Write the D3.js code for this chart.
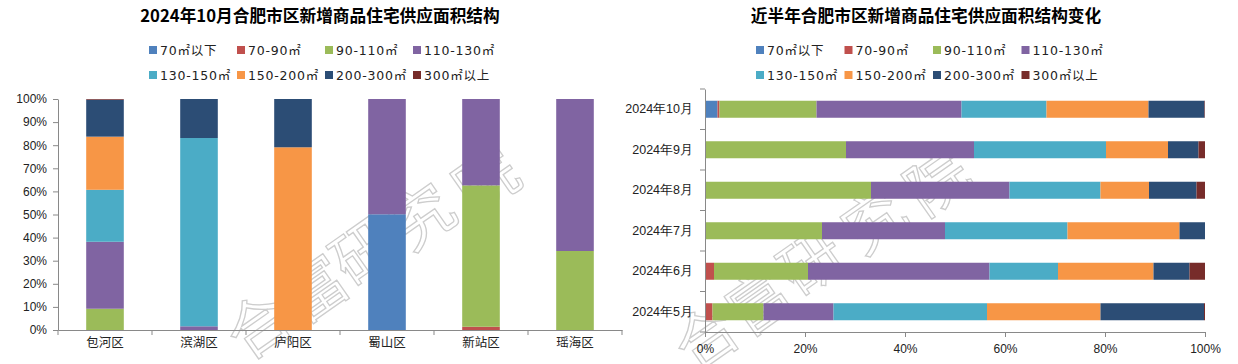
<!DOCTYPE html>
<html>
<head>
<meta charset="utf-8">
<script src="https://cdn.jsdelivr.net/npm/d3@7"></script>
<style>
  body { margin: 0; background: #fff; }
  svg { display: block; font-family: "DejaVu Sans", "Noto Sans CJK SC", sans-serif; }
</style>
</head>
<body>
<svg id="chart" width="1238" height="364"></svg>
<script>
// legend / series
const sizeKeys = ["70㎡以下", "70-90㎡", "90-110㎡", "110-130㎡", "130-150㎡", "150-200㎡", "200-300㎡", "300㎡以上"];
const sizeColors = ["#4F81BD", "#C0504D", "#9BBB59", "#8064A2", "#4BACC6", "#F79646", "#2C4D75", "#772C2A"];

// left chart: October 2024 by district (%)
const districts = ["包河区", "滨湖区", "庐阳区", "蜀山区", "新站区", "瑶海区"];
const baohe   = [0, 0, 9.2, 29.0, 22.5, 23.0, 16.0, 0.3];
const binhu   = [0, 0, 0, 1.6, 81.5, 0, 16.9, 0];
const luyang  = [0, 0, 0, 0, 0, 79.1, 20.9, 0];
const shushan = [50.1, 0, 0, 49.9, 0, 0, 0, 0];
const xinzhan = [0, 1.4, 61.2, 37.4, 0, 0, 0, 0];
const yaohai  = [0, 0, 34.2, 65.8, 0, 0, 0, 0];
const districtValues = [baohe, binhu, luyang, shushan, xinzhan, yaohai];

// right chart: last six months (%)
const months = ["2024年10月", "2024年9月", "2024年8月", "2024年7月", "2024年6月", "2024年5月"];
const oct = [2.5, 0.4, 19.4, 29.0, 17.0, 20.4, 11.2, 0.1];
const sep = [0, 0, 28.2, 25.6, 26.4, 12.4, 6.1, 1.3];
const aug = [0, 0, 33.2, 27.7, 18.2, 9.7, 9.5, 1.7];
const jul = [0, 0.2, 23.2, 24.6, 24.5, 22.4, 5.1, 0];
const jun = [0, 1.8, 18.8, 36.3, 13.7, 19.1, 7.2, 3.1];
const may = [0, 1.5, 10.2, 14.0, 30.7, 22.7, 20.7, 0.2];
const monthValues = [oct, sep, aug, jul, jun, may];

const leftTicks = [0, 10, 20, 30, 40, 50, 60, 70, 80, 90, 100];
const rightTicks = [0, 20, 40, 60, 80, 100];

const axisColor = "#898989";
const textColor = "#222";
const svg = d3.select("#chart");

const color = d3.scaleOrdinal().domain(sizeKeys).range(sizeColors);

function toRows(names, values) {
    return names.map((name, i) => {
        const row = { name: name };
        sizeKeys.forEach((k, j) => row[k] = values[i][j]);
        return row;
    });
}
const stack = d3.stack().keys(sizeKeys);

// watermark (outlined, behind the bars)
function watermark(points) {
    const chars = "合富研究院".split("");
    svg.append("g").selectAll("text")
        .data(chars)
        .join("text")
        .attr("transform", (d, i) => `translate(${points[i][0]},${points[i][1]}) rotate(-35)`)
        .attr("text-anchor", "middle")
        .attr("dominant-baseline", "central")
        .attr("font-family", "Noto Sans CJK SC")
        .attr("font-size", 62)
        .attr("fill", "none")
        .attr("stroke", "#cdcdcd")
        .attr("stroke-width", 1.3)
        .text(d => d);
}

function legend(x0, step) {
    const g = svg.append("g");
    sizeKeys.forEach((k, i) => {
        const x = x0 + (i % 4) * step;
        const y = i < 4 ? 50 : 75;
        g.append("rect").attr("x", x).attr("y", y - 4).attr("width", 8).attr("height", 8).attr("fill", color(k));
        g.append("text").attr("x", x + 11).attr("y", y).attr("dominant-baseline", "central")
            .attr("font-size", 12.5).attr("letter-spacing", 0.8).attr("fill", textColor).text(k);
    });
}

// ---------------- left chart ----------------
{
    const x = d3.scaleBand().domain(districts).range([58, 622]).paddingInner(0.6).paddingOuter(0.3);
    const y = d3.scaleLinear().domain([0, 100]).range([330, 99]);

    watermark([[256, 322], [313, 285], [361, 248], [420, 213], [484, 177]]);

    svg.append("text").attr("x", 320).attr("y", 22).attr("text-anchor", "middle")
        .attr("font-family", "Noto Sans CJK SC").attr("font-weight", "bold").attr("font-size", 16.7)
        .attr("fill", "#000").text("2024年10月合肥市区新增商品住宅供应面积结构");
    legend(149, 88);

    const series = stack(toRows(districts, districtValues));
    svg.append("g").selectAll("g")
        .data(series)
        .join("g")
        .attr("fill", d => color(d.key))
        .selectAll("rect")
        .data(d => d)
        .join("rect")
        .attr("x", d => x(d.data.name))
        .attr("width", x.bandwidth())
        .attr("y", d => y(d[1]))
        .attr("height", d => y(d[0]) - y(d[1]));

    const yAxis = svg.append("g").attr("transform", "translate(58,0)")
        .call(d3.axisLeft(y).tickValues(leftTicks).tickSize(5).tickSizeOuter(0).tickFormat(d => d + "%"));
    yAxis.selectAll("path, line").attr("stroke", axisColor);
    yAxis.selectAll("text").attr("font-size", 12).attr("fill", textColor).attr("x", -11);

    const xAxis = svg.append("g").attr("transform", "translate(0,330)")
        .call(d3.axisBottom(x).tickSize(0).tickSizeOuter(0));
    xAxis.select("path").attr("stroke", axisColor);
    xAxis.selectAll("text").attr("font-size", 12.5).attr("fill", textColor).attr("dy", "1.15em")
        .attr("font-family", "Noto Sans CJK SC");
    xAxis.selectAll(".edge").data(d3.range(districts.length + 1))
        .join("line").attr("class", "edge")
        .attr("x1", i => 58 + i * x.step()).attr("x2", i => 58 + i * x.step())
        .attr("y1", 0).attr("y2", 5).attr("stroke", axisColor);
}

// ---------------- right chart ----------------
{
    const x = d3.scaleLinear().domain([0, 100]).range([705, 1205]);
    const y = d3.scaleBand().domain(months).range([89, 332]).paddingInner(0.58).paddingOuter(0.29);

    watermark([[704, 334], [757, 298], [809, 258], [872, 217], [935, 178]]);

    svg.append("text").attr("x", 926).attr("y", 22).attr("text-anchor", "middle")
        .attr("font-family", "Noto Sans CJK SC").attr("font-weight", "bold").attr("font-size", 16.7)
        .attr("fill", "#000").text("近半年合肥市区新增商品住宅供应面积结构变化");
    legend(756, 88.5);

    const series = stack(toRows(months, monthValues));
    svg.append("g").selectAll("g")
        .data(series)
        .join("g")
        .attr("fill", d => color(d.key))
        .selectAll("rect")
        .data(d => d)
        .join("rect")
        .attr("y", d => y(d.data.name))
        .attr("height", y.bandwidth())
        .attr("x", d => x(d[0]))
        .attr("width", d => x(d[1]) - x(d[0]));

    const xAxis = svg.append("g").attr("transform", "translate(0,332)")
        .call(d3.axisBottom(x).tickValues(rightTicks).tickSize(5).tickSizeOuter(0).tickFormat(d => d + "%"));
    xAxis.selectAll("path, line").attr("stroke", axisColor);
    xAxis.selectAll("text").attr("font-size", 12).attr("fill", textColor).attr("dy", "1.1em");

    const yAxis = svg.append("g").attr("transform", "translate(705,0)")
        .call(d3.axisLeft(y).tickSize(0).tickSizeOuter(0));
    yAxis.select("path").attr("stroke", axisColor);
    yAxis.selectAll("text").attr("font-size", 12.5).attr("fill", textColor).attr("x", -12);
    yAxis.selectAll(".edge").data(d3.range(months.length + 1))
        .join("line").attr("class", "edge")
        .attr("y1", i => 89 + i * y.step()).attr("y2", i => 89 + i * y.step())
        .attr("x1", 0).attr("x2", -5).attr("stroke", axisColor);
}
</script>
</body>
</html>
